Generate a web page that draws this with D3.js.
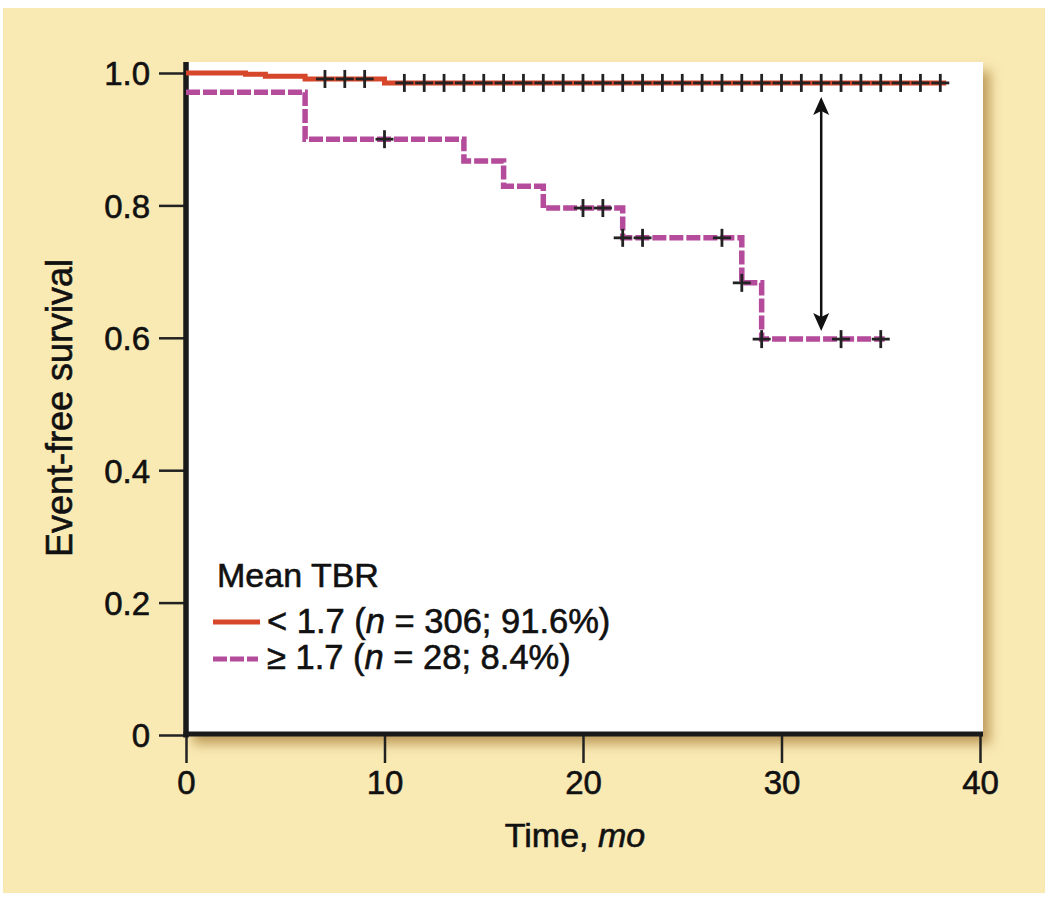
<!DOCTYPE html>
<html>
<head>
<meta charset="utf-8">
<script src="https://cdn.jsdelivr.net/npm/d3@7/dist/d3.min.js"></script>
<style>
  html, body { margin: 0; padding: 0; background: #ffffff; }
  svg { display: block; }
  text { font-family: "Liberation Sans", Arial, Helvetica, sans-serif; fill: #111; stroke: #111; stroke-width: 0.6px; }
</style>
</head>
<body>
<svg id="chart" width="1050" height="897"></svg>
<script>
// ---- data ----
const xTicks = [0, 10, 20, 30, 40];
const yTicks = [0, 0.2, 0.4, 0.6, 0.8, 1.0];
const yTickLabels = ["0", "0.2", "0.4", "0.6", "0.8", "1.0"];

// group < 1.7 : step times and survival values
const lowTimes = [0, 3, 4, 6, 10, 38.3];
const lowSurv  = [1.0, 0.998, 0.995, 0.991, 0.985, 0.985];
const lowCensorTimes = [7, 8, 9, 11, 12, 13, 14, 15, 16, 17, 18, 19, 20, 21, 22, 23, 24, 25, 26, 27, 28, 29, 30, 31, 32, 33, 34, 35, 36, 37, 38];

// group >= 1.7
const highTimes = [0, 6, 14, 16, 18, 22, 28, 29, 35.2];
const highSurv  = [0.971, 0.900, 0.867, 0.829, 0.796, 0.751, 0.683, 0.598, 0.598];
const highCensorTimes = [10, 20, 21, 22, 23, 27, 28, 29, 33, 35];

const arrowTime = 32;
const arrowFrom = 0.985;
const arrowTo = 0.598;

const legendTitle = "Mean TBR";
const legendLabels = [
  ["< 1.7 (", "n", " = 306; 91.6%)"],
  ["\u2265 1.7 (", "n", " = 28; 8.4%)"]
];

// ---- layout ----
const svg = d3.select("#chart");
const x = d3.scaleLinear().domain([0, 40]).range([186, 980]);
const y = d3.scaleLinear().domain([0, 1]).range([735, 73]);
const redColor = "#d6462a";
const magColor = "#b44b9b";

// background panel
svg.append("rect").attr("x", 3).attr("y", 8).attr("width", 1042).attr("height", 885).attr("fill", "#f9e9b3");

const defs = svg.append("defs");
const f = defs.append("filter").attr("id", "shadow").attr("x", "-10%").attr("y", "-10%").attr("width", "130%").attr("height", "130%");
f.append("feGaussianBlur").attr("in", "SourceAlpha").attr("stdDeviation", 6).attr("result", "b");
f.append("feOffset").attr("in", "b").attr("dx", 7).attr("dy", 9).attr("result", "o");
f.append("feFlood").attr("flood-color", "#b08a45").attr("flood-opacity", 0.8).attr("result", "c");
f.append("feComposite").attr("in", "c").attr("in2", "o").attr("operator", "in").attr("result", "s");
const fm = f.append("feMerge");
fm.append("feMergeNode").attr("in", "s");
fm.append("feMergeNode").attr("in", "SourceGraphic");

// white plot area
svg.append("rect").attr("x", 186).attr("y", 62).attr("width", 983 - 186).attr("height", 735 - 62)
  .attr("fill", "#ffffff").attr("filter", "url(#shadow)");

// ---- axes ----
const yAxis = svg.append("g").attr("transform", `translate(${x(0)},0)`)
  .call(d3.axisLeft(y).tickValues(yTicks).tickSize(27).tickPadding(9)
    .tickFormat((d, i) => yTickLabels[i]));
yAxis.select(".domain").remove();
yAxis.selectAll(".tick line").attr("stroke", "#222").attr("stroke-width", 2.5);
yAxis.selectAll(".tick text").attr("font-size", 33).attr("fill", "#111")
  .attr("font-family", "Liberation Sans, Arial, sans-serif").attr("dy", "0.36em");

const xAxis = svg.append("g").attr("transform", `translate(0,${y(0)})`)
  .call(d3.axisBottom(x).tickValues(xTicks).tickSize(28).tickPadding(8).tickFormat(d3.format("d")));
xAxis.select(".domain").remove();
xAxis.selectAll(".tick line").attr("stroke", "#222").attr("stroke-width", 2.5);
xAxis.selectAll(".tick text").attr("font-size", 33).attr("fill", "#111")
  .attr("font-family", "Liberation Sans, Arial, sans-serif");

// thick axis lines
svg.append("line").attr("x1", x(0)).attr("x2", x(0)).attr("y1", 62).attr("y2", y(0) + 2.5)
  .attr("stroke", "#1a1a1a").attr("stroke-width", 5.5);
svg.append("line").attr("x1", x(0) - 2.5).attr("x2", 983).attr("y1", y(0) - 1).attr("y2", y(0) - 1)
  .attr("stroke", "#1a1a1a").attr("stroke-width", 5);

// axis titles
const xt = svg.append("text").attr("x", 575).attr("y", 847).attr("text-anchor", "middle").attr("font-size", 34);
xt.append("tspan").text("Time, ");
xt.append("tspan").attr("font-style", "italic").text("mo");

svg.append("text").attr("transform", "translate(72,408) rotate(-90)").attr("text-anchor", "middle")
  .attr("font-size", 36).text("Event-free survival");

// ---- curves ----
const line = d3.line().x(d => x(d[0])).y(d => y(d[1])).curve(d3.curveStepAfter);
const lowPts = lowTimes.map((t, i) => [t, lowSurv[i]]);
const highPts = highTimes.map((t, i) => [t, highSurv[i]]);

svg.append("path").datum(lowPts).attr("d", line).attr("fill", "none")
  .attr("stroke", redColor).attr("stroke-width", 5);
svg.append("path").datum(highPts).attr("d", line).attr("fill", "none")
  .attr("stroke", magColor).attr("stroke-width", 5.5).attr("stroke-dasharray", "14,3");

// survival lookup for censor marks
function survAt(times, surv, t) {
  let v = surv[0];
  for (let i = 0; i < times.length; i++) { if (times[i] <= t) v = surv[i]; }
  return v;
}
function drawCensor(times, surv, cts) {
  const g = svg.append("g");
  cts.forEach(t => {
    const cx = x(t), cy = y(survAt(times, surv, t));
    g.append("line").attr("x1", cx - 9).attr("x2", cx + 9).attr("y1", cy).attr("y2", cy)
      .attr("stroke", "#222").attr("stroke-width", 2.8);
    g.append("line").attr("x1", cx).attr("x2", cx).attr("y1", cy - 9).attr("y2", cy + 9)
      .attr("stroke", "#222").attr("stroke-width", 2.8);
  });
}
drawCensor(lowTimes, lowSurv, lowCensorTimes);
drawCensor(highTimes, highSurv, highCensorTimes);

// ---- double arrow ----
const ax = x(arrowTime), ay1 = y(arrowFrom) + 14, ay2 = y(arrowTo) - 8;
svg.append("line").attr("x1", ax).attr("x2", ax).attr("y1", ay1 + 14).attr("y2", ay2 - 14)
  .attr("stroke", "#111").attr("stroke-width", 2.5);
svg.append("path").attr("d", `M${ax},${ay1} L${ax - 8},${ay1 + 18} L${ax},${ay1 + 14} L${ax + 8},${ay1 + 18} Z`).attr("fill", "#111");
svg.append("path").attr("d", `M${ax},${ay2} L${ax - 8},${ay2 - 18} L${ax},${ay2 - 14} L${ax + 8},${ay2 - 18} Z`).attr("fill", "#111");

// ---- legend ----
svg.append("text").attr("x", 217).attr("y", 587).attr("font-size", 34).text(legendTitle);
svg.append("line").attr("x1", 213).attr("x2", 260).attr("y1", 622).attr("y2", 622)
  .attr("stroke", redColor).attr("stroke-width", 5);
svg.append("line").attr("x1", 213).attr("x2", 258).attr("y1", 659).attr("y2", 659)
  .attr("stroke", magColor).attr("stroke-width", 5).attr("stroke-dasharray", "14,3");
legendLabels.forEach((parts, i) => {
  const t = svg.append("text").attr("x", 267).attr("y", 633 + i * 36).attr("font-size", 34.5);
  t.append("tspan").text(parts[0]);
  t.append("tspan").attr("font-style", "italic").text(parts[1]);
  t.append("tspan").text(parts[2]);
});
</script>
</body>
</html>
